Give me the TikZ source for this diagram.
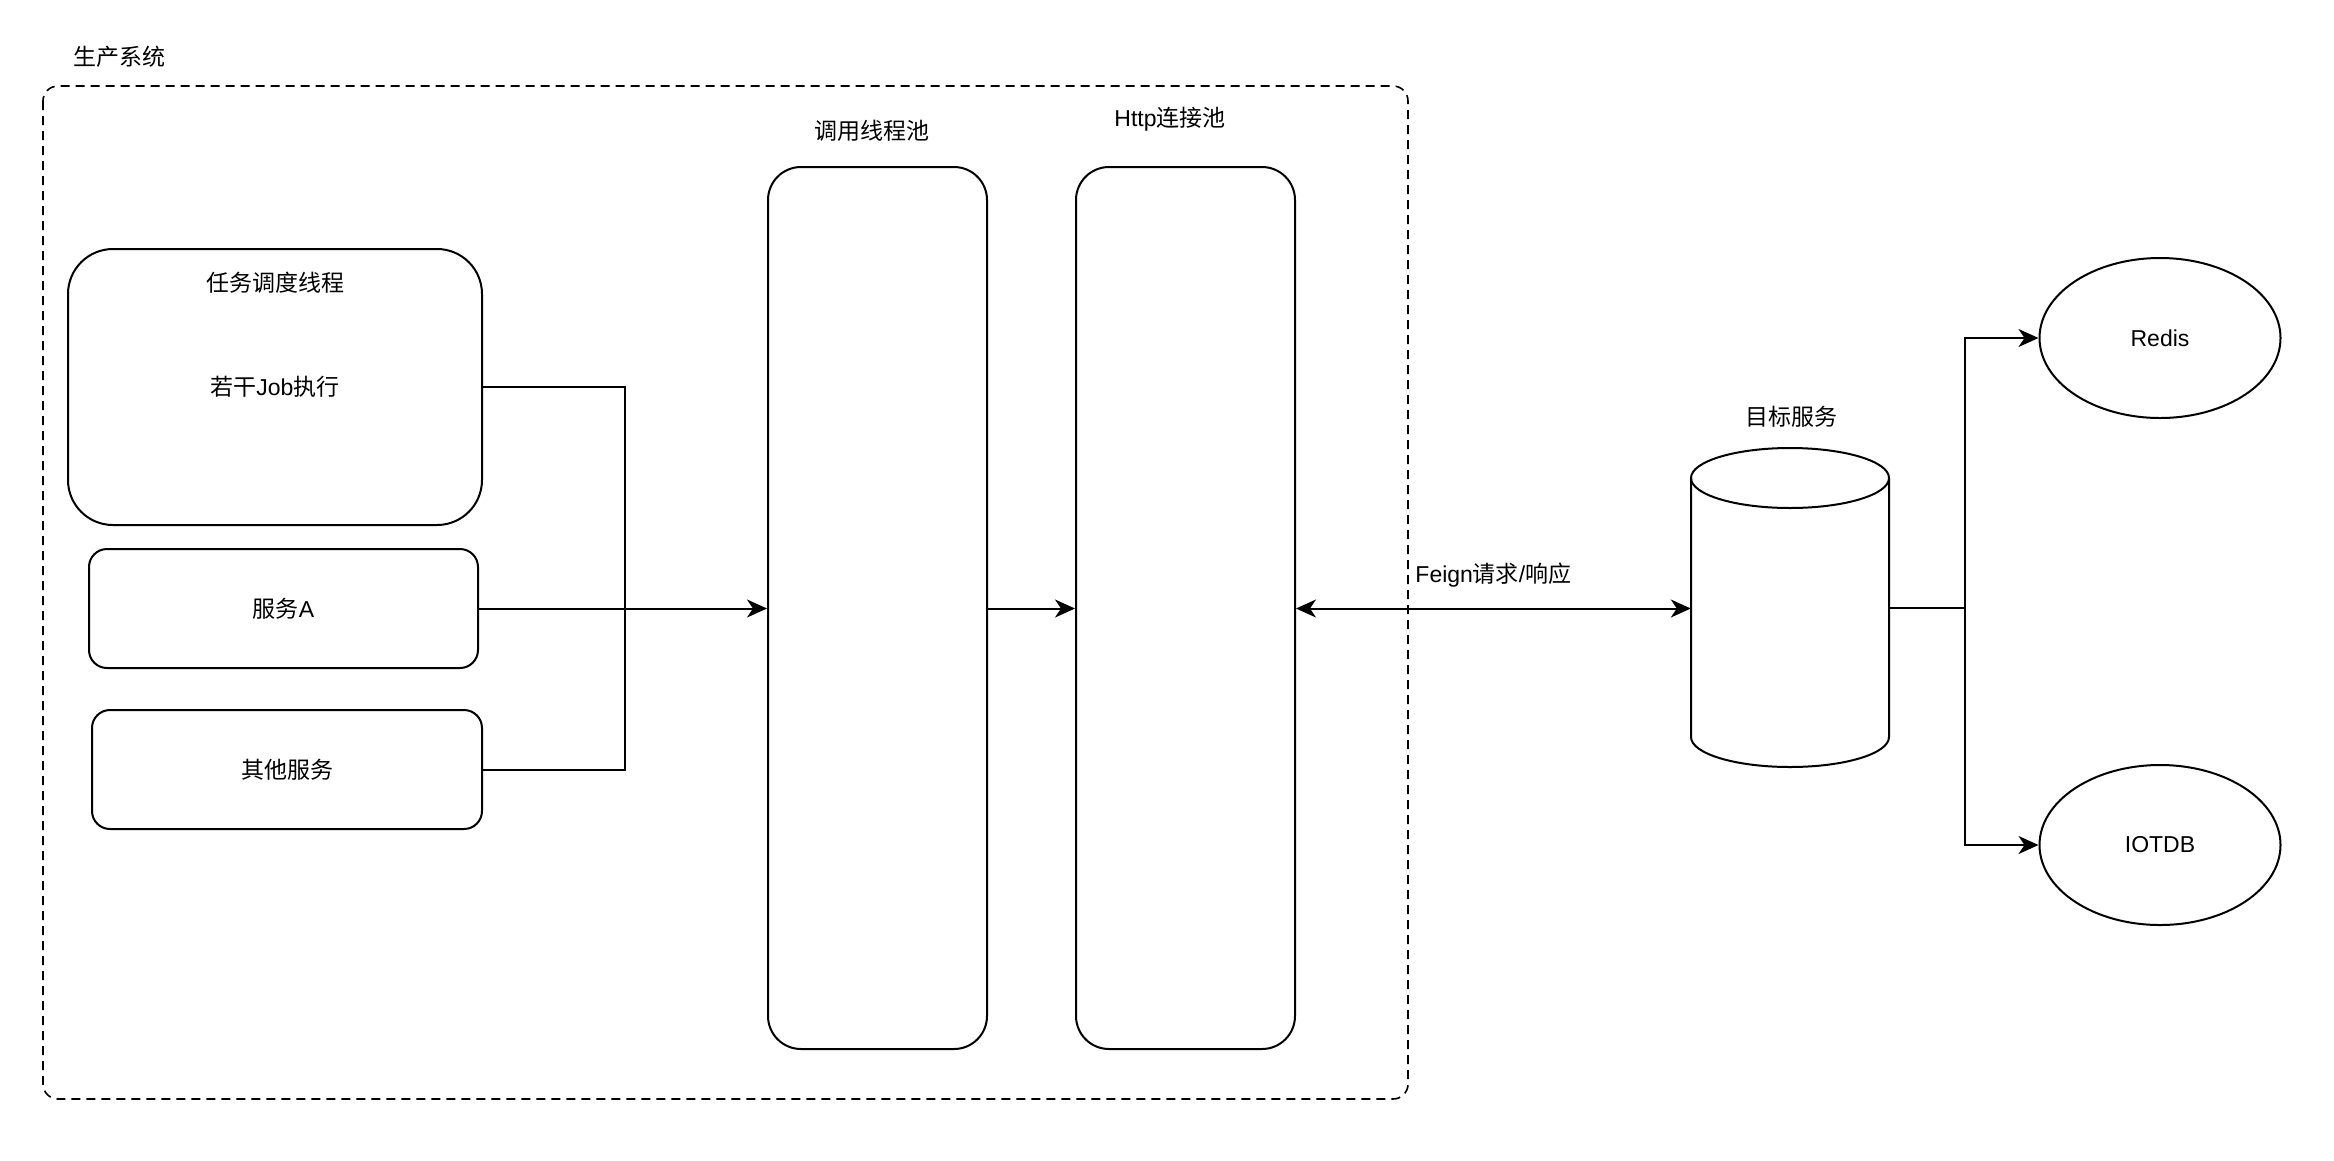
\documentclass[tikz,border=0pt]{standalone}
\usepackage{fontspec}
\setmainfont{Liberation Sans}
\newfontfamily\cjk{Noto Sans CJK SC}
\usetikzlibrary{arrows.meta,shapes.geometric}
\begin{document}
\begin{tikzpicture}[x=1pt,y=-1pt,
  every node/.style={font=\fontsize{23}{28}\selectfont},
  line/.style={line width=2pt},
  arr/.style={line width=2pt,-{Stealth[length=20pt,width=18pt,inset=6pt]}},
  biarr/.style={line width=2pt,{Stealth[length=20pt,width=18pt,inset=6pt]}-{Stealth[length=20pt,width=18pt,inset=6pt]}},
  box/.style={draw,line width=2pt,inner sep=0pt},
  lbl/.style={inner sep=0pt}]
\useasboundingbox (0,0) rectangle (2334,1160);
% container
\draw[line width=1.6pt,dash pattern=on 9pt off 6pt,rounded corners=15pt] (43,86) rectangle (1408,1099);
\node[lbl] (title) at (119,57) {\cjk 生产系统};
% left boxes
\node[box,rounded corners=45pt,minimum width=414pt,minimum height=276pt] (task) at (275,387) {};
\node[lbl] (tasklbl) at (275,283) {\cjk 任务调度线程};
\node[lbl] (job) at (275,387) {{\cjk 若干}Job{\cjk 执行}};
\node[box,rounded corners=18pt,minimum width=389pt,minimum height=119pt] (svcA) at (283.5,608.5) {{\cjk 服务}A};
\node[box,rounded corners=18pt,minimum width=390pt,minimum height=119pt] (other) at (287,769.5) {\cjk 其他服务};
% pools
\node[box,rounded corners=33pt,minimum width=219pt,minimum height=882pt] (call) at (877.5,608) {};
\node[lbl] (calllbl) at (872,131) {\cjk 调用线程池};
\node[box,rounded corners=33pt,minimum width=219pt,minimum height=882pt] (http) at (1185.5,608) {};
\node[lbl] (httplbl) at (1170,119) {Http{\cjk 连接池}};
% cylinder
\draw[line width=2pt,fill=white] (1691,478) -- (1691,737) arc[start angle=180,end angle=0,x radius=99,y radius=30] -- (1889,478);
\draw[line width=2pt] (1790,478) ellipse [x radius=99,y radius=30];
\node[inner sep=0pt,minimum width=198pt,minimum height=319pt] (tgt) at (1790,607.5) {};
\node[lbl] (tgtlbl) at (1791,417) {\cjk 目标服务};
% ellipses
\node[box,ellipse,minimum width=241pt,minimum height=160pt] (redis) at (2160,338) {Redis};
\node[box,ellipse,minimum width=241pt,minimum height=160pt] (iotdb) at (2160,845) {IOTDB};
% connectors
\coordinate (j1) at (625,607);
\draw[line] (task.east |- job) -- (625,387) -- (j1);
\draw[line] (other.east) -- (625,769.5) -- (j1);
\draw[arr] (svcA.east) -- (call.west |- svcA.east);
\draw[arr] (call.east |- svcA.east) -- (http.west |- svcA.east);
\draw[biarr] (http.east |- svcA.east) -- (tgt.west |- svcA.east) node[lbl,pos=0.5,above=20pt] (feign) {Feign{\cjk 请求}/{\cjk 响应}};
\coordinate (j2) at (1965,607.5);
\draw[line] (tgt.east) -- (j2);
\draw[arr] (j2) |- (redis.west);
\draw[arr] (j2) |- (iotdb.west);
\end{tikzpicture}
\end{document}
